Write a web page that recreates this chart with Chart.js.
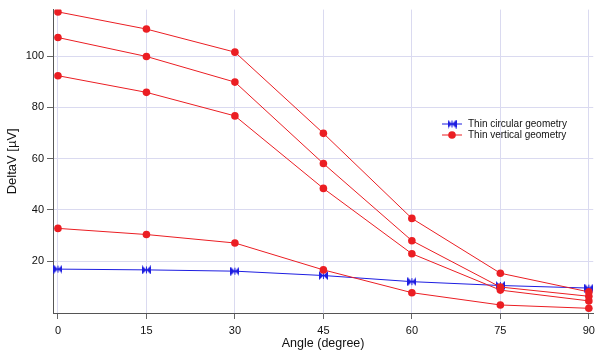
<!DOCTYPE html>
<html>
<head>
<meta charset="utf-8">
<script src="https://cdn.jsdelivr.net/npm/chart.js@4"></script>
<style>
  html, body { margin: 0; padding: 0; background: #fff; }
  #wrap { width: 600px; height: 352px; }
</style>
</head>
<body>
<div id="wrap"><canvas id="deltav_chart" width="600" height="352"></canvas></div>
<script>
const angles = [0, 15, 30, 45, 60, 75, 90];
const circular = [16.9, 16.6, 16.1, 14.4, 12.0, 10.5, 9.5];
const vertical1 = [117.3, 110.6, 101.6, 69.9, 36.7, 15.3, 8.0];
const vertical2 = [107.3, 99.9, 89.9, 58.1, 28.0, 9.9, 6.3];
const vertical3 = [92.4, 85.9, 76.7, 48.4, 22.9, 8.7, 4.5];
const vertical4 = [32.8, 30.4, 27.1, 16.6, 7.7, 2.9, 1.6];
const xTicks = [0, 15, 30, 45, 60, 75, 90];
const yTicks = [20, 40, 60, 80, 100];

const FONT = "'Liberation Sans', Arial, sans-serif";
const RED = "rgb(235, 30, 35)";
const BLUE = "rgb(30, 30, 225)";

// bowtie marker used by the circular geometry curve
function bowtie(color) {
  const c = document.createElement("canvas");
  c.width = 9;
  c.height = 9;
  const g = c.getContext("2d");
  g.fillStyle = color;
  g.beginPath();
  g.moveTo(0, 0); g.lineTo(4.5, 4.5); g.lineTo(0, 9); g.closePath();
  g.moveTo(9, 0); g.lineTo(4.5, 4.5); g.lineTo(9, 9); g.closePath();
  g.fill();
  g.fillRect(4, 1, 1, 7);
  return c;
}
const bowtieMark = bowtie(BLUE);

const pts = (ys) => angles.map((a, i) => ({ x: a, y: ys[i] }));

const redSet = (label, ys) => ({
  label: label,
  data: pts(ys),
  borderColor: RED,
  backgroundColor: RED,
  borderWidth: 1,
  pointRadius: 3.8,
  pointBorderWidth: 0,
  pointStyle: "circle",
  order: 0,
});

// legend drawn inside the plot area
const innerLegend = {
  id: "innerLegend",
  afterDatasetsDraw(chart) {
    const ctx = chart.ctx;
    const rows = [
      { ds: chart.data.datasets[0], y: 124 },
      { ds: chart.data.datasets[1], y: 135 },
    ];
    ctx.save();
    ctx.font = "10px " + FONT;
    ctx.textBaseline = "middle";
    ctx.fillStyle = "#111";
    rows.forEach((r) => {
      ctx.strokeStyle = r.ds.borderColor;
      ctx.lineWidth = 1;
      ctx.beginPath();
      ctx.moveTo(442, r.y);
      ctx.lineTo(462, r.y);
      ctx.stroke();
      if (r.ds.pointStyle instanceof HTMLCanvasElement) {
        ctx.drawImage(r.ds.pointStyle, 452 - 4.5, r.y - 4.5);
      } else {
        ctx.fillStyle = r.ds.backgroundColor;
        ctx.beginPath();
        ctx.arc(452, r.y, 3.8, 0, Math.PI * 2);
        ctx.fill();
      }
      ctx.fillStyle = "#111";
      ctx.fillText(r.ds.label, 468, r.y);
    });
    ctx.restore();
  },
};

const ctx = document.getElementById("deltav_chart").getContext("2d");
const myChart = new Chart(ctx, {
  type: "line",
  data: {
    datasets: [
      {
        label: "Thin circular geometry",
        data: pts(circular),
        borderColor: BLUE,
        backgroundColor: BLUE,
        borderWidth: 1,
        pointStyle: bowtieMark,
        pointRadius: 4.5,
        order: 1,
      },
      redSet("Thin vertical geometry", vertical1),
      redSet("Thin vertical geometry 2", vertical2),
      redSet("Thin vertical geometry 3", vertical3),
      redSet("Thin vertical geometry 4", vertical4),
    ],
  },
  options: {
    responsive: false,
    animation: false,
    layout: { padding: { top: 4, right: 3, left: 0, bottom: 0 } },
    plugins: {
      legend: { display: false },
      tooltip: { enabled: false },
    },
    scales: {
      x: {
        type: "linear",
        min: -0.84,
        max: 90.75,
        afterBuildTicks: (scale) => {
          scale.ticks = xTicks.map((v) => ({ value: v }));
        },
        afterFit: (scale) => {
          scale.height = 39;
        },
        grid: {
          color: "rgb(218, 218, 240)",
          tickColor: "#666",
          tickLength: 6,
        },
        border: { color: "#555", width: 1 },
        ticks: {
          color: "#111",
          padding: 5,
          maxRotation: 0,
          font: { family: FONT, size: 11 },
        },
        title: {
          display: true,
          text: "Angle (degree)",
          color: "#111",
          padding: { top: 0, bottom: 1 },
          font: { family: FONT, size: 12.5 },
        },
      },
      y: {
        min: -0.23,
        max: 118.2,
        afterBuildTicks: (scale) => {
          scale.ticks = yTicks.map((v) => ({ value: v }));
        },
        afterFit: (scale) => {
          scale.width = 53;
        },
        grid: {
          color: "rgb(218, 218, 240)",
          tickColor: "#666",
          tickLength: 6,
        },
        border: { color: "#555", width: 1 },
        ticks: {
          color: "#111",
          padding: 3,
          font: { family: FONT, size: 11 },
        },
        title: {
          display: true,
          text: "DeltaV [µV]",
          color: "#111",
          padding: { top: 5, bottom: 0 },
          font: { family: FONT, size: 13 },
        },
      },
    },
  },
  plugins: [innerLegend],
});
</script>
</body>
</html>
